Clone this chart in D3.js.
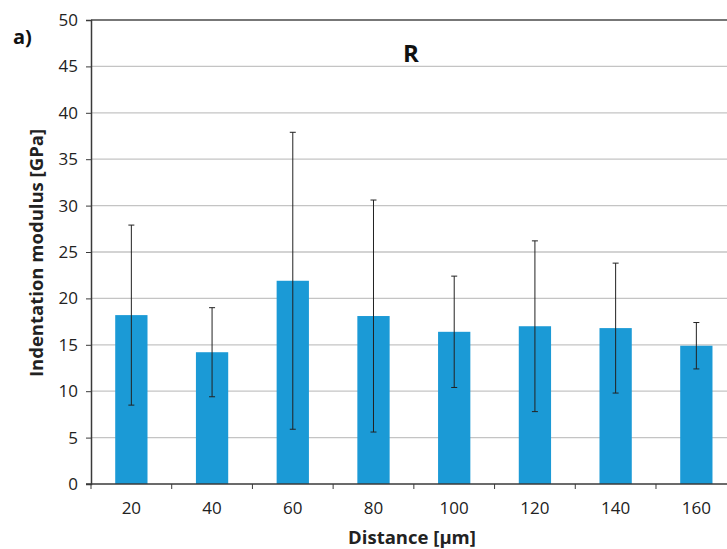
<!DOCTYPE html>
<html>
<head>
<meta charset="utf-8">
<script src="https://cdn.jsdelivr.net/npm/d3@7/dist/d3.min.js"></script>
<style>
  html, body { margin: 0; padding: 0; background: #fff; }
  svg { display: block; font-family: "Open Sans", "Liberation Sans", sans-serif; }
</style>
</head>
<body>
<svg id="chart" width="727" height="549"></svg>
<script>
const categories = ["20", "40", "60", "80", "100", "120", "140", "160"];
const values = [18.2, 14.2, 21.9, 18.1, 16.4, 17.0, 16.8, 14.9];
const errors = [9.7, 4.8, 16.0, 12.5, 6.0, 9.2, 7.0, 2.5];
const yTicks = [0, 5, 10, 15, 20, 25, 30, 35, 40, 45, 50];

(function () {
const svg = d3.select("#chart");
const pL = 91, pR = 736.7, pT = 20, pB = 484;

const x = d3.scaleBand().domain(categories).range([pL, pR]).paddingInner(0.6).paddingOuter(0.3);
const y = d3.scaleLinear().domain([0, 50]).range([pB, pT]);

// gridlines
svg.append("g").selectAll("line").data(yTicks.filter(d => d > 0 && d < 50)).join("line")
  .attr("x1", pL).attr("x2", 727)
  .attr("y1", d => y(d)).attr("y2", d => y(d))
  .attr("stroke", "#c4c4c4").attr("stroke-width", 1.3);

// top frame line
svg.append("line").attr("x1", pL).attr("x2", 727).attr("y1", y(50)).attr("y2", y(50))
  .attr("stroke", "#4a4a4a").attr("stroke-width", 1.5);

// bars
svg.append("g").selectAll("rect").data(values).join("rect")
  .attr("x", (d, i) => x(categories[i]))
  .attr("width", x.bandwidth())
  .attr("y", d => y(d))
  .attr("height", d => y(0) - y(d))
  .attr("fill", "#1b9ad6");

// error bars
const eb = svg.append("g").attr("stroke", "#222").attr("stroke-width", 1);
values.forEach((v, i) => {
  const cx = x(categories[i]) + x.bandwidth() / 2;
  const hi = y(v + errors[i]), lo = y(v - errors[i]);
  eb.append("line").attr("x1", cx).attr("x2", cx).attr("y1", hi).attr("y2", lo);
  eb.append("line").attr("x1", cx - 3).attr("x2", cx + 3).attr("y1", hi).attr("y2", hi);
  eb.append("line").attr("x1", cx - 3).attr("x2", cx + 3).attr("y1", lo).attr("y2", lo);
});

// y axis
const yAxis = d3.axisLeft(y).tickValues(yTicks).tickSize(5).tickPadding(8);
const gy = svg.append("g").attr("transform", `translate(${pL},0)`).call(yAxis);
gy.select(".domain").attr("stroke", "#3a3a3a").attr("stroke-width", 1.5);
gy.selectAll(".tick line").attr("stroke", "#3a3a3a");
gy.selectAll(".tick text").attr("font-size", 17).attr("fill", "#222")
  .attr("font-family", "'Open Sans', sans-serif");

// x axis
const xPos = d3.scalePoint().domain(d3.range(categories.length + 1)).range([pL, pR]);
const gx = svg.append("g").attr("transform", `translate(0,${pB})`);
gx.append("line").attr("x1", pL - 5).attr("x2", 727).attr("y1", 0).attr("y2", 0)
  .attr("stroke", "#3a3a3a").attr("stroke-width", 1.5);
gx.selectAll("line.tk").data(d3.range(categories.length + 1)).join("line")
  .attr("class", "tk")
  .attr("x1", d => xPos(d)).attr("x2", d => xPos(d)).attr("y1", 0).attr("y2", 5)
  .attr("stroke", "#3a3a3a");
gx.selectAll("text").data(categories).join("text")
  .attr("x", d => x(d) + x.bandwidth() / 2)
  .attr("y", 30)
  .attr("text-anchor", "middle")
  .attr("font-size", 17).attr("fill", "#222")
  .text(d => d);

// axis titles
svg.append("text").attr("x", 412).attr("y", 544).attr("text-anchor", "middle")
  .attr("font-size", 18.5).attr("font-weight", "bold").attr("fill", "#222")
  .text("Distance [µm]");
svg.append("text").attr("transform", "translate(43,253) rotate(-90)").attr("text-anchor", "middle")
  .attr("font-size", 18.5).attr("font-weight", "bold").attr("fill", "#222")
  .text("Indentation modulus [GPa]");

// title and panel label
svg.append("text").attr("x", 411).attr("y", 62).attr("text-anchor", "middle")
  .attr("font-size", 24).attr("font-weight", "bold").attr("fill", "#111")
  .text("R");
svg.append("text").attr("x", 13).attr("y", 44)
  .attr("font-size", 20).attr("font-weight", "bold").attr("fill", "#111")
  .text("a)");
})();
</script>
</body>
</html>
